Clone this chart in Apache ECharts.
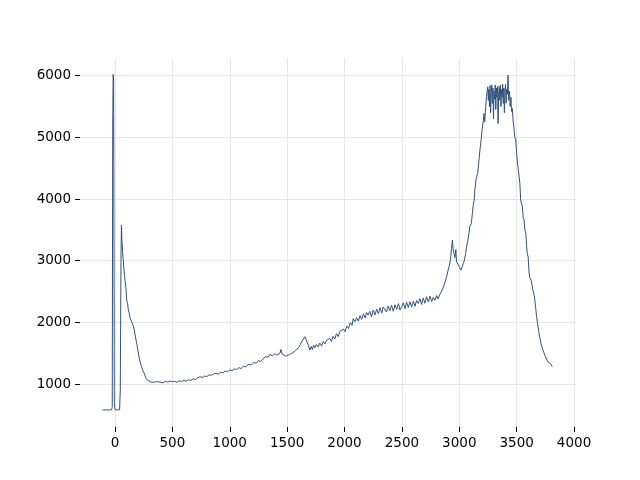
<!DOCTYPE html>
<html><head><meta charset="utf-8">
<script src="https://cdn.jsdelivr.net/npm/echarts@6/dist/echarts.min.js"></script>
<style>html,body{margin:0;padding:0;background:#fff}#c{width:640px;height:480px}</style>
</head><body><div id="c"></div>
<script>
var xTicks = [0, 500, 1000, 1500, 2000, 2500, 3000, 3500, 4000];
var yTicks = [1000, 2000, 3000, 4000, 5000, 6000];
var xs = [-110,-80,-50,-30,-24,-20,-16,-12,-6,0,20,40,46,52,56,60,66,72,80,87,95,102,110,116,124,131,140,151,160,168,178,189,199,209,220,232,244,255,266,276,290,305,320,335,348,362,377,390,
400,420,440,460,480,500,520,540,560,580,600,620,640,660,680,700,720,740,760,780,800,820,840,860,880,900,920,940,960,980,1000,
1020,1040,1060,1080,1100,1120,1140,1160,1176,1190,1210,1230,1250,1270,1290,1310,1321,1335,1350,1370,1390,1410,1425,1437,1446,1455,1470,1485,1495,1510,1530,1550,1570,1582,1600,1615,1630,1645,1655,1665,1675,1685,1699,1710,1720,1730,1742,1755,1770,1785,1800,1815,1830,1844,1858,1872,1886,1900,1915,1930,1945,1960,1975,1990,2005,2020,2035,2050,2065,2076,2090,2105,2120,2135,2150,2165,2180,2192,2205,2220,2235,2250,2265,2280,2295,2310,2325,2337,2350,2365,2380,2395,2410,2425,2440,2455,2470,2483,2498,2512,2527,2541,2556,2570,2585,2600,2614,2628,2643,2657,2672,2686,2700,2715,2730,2745,2760,2773,2788,2802,2815,2831,2845,2860,2875,2890,2903,2915,2925,2933,2940,2947,2955,2962,2970,2976,2985,2995,3005,3015,3025,3034,3045,3055,3063,3075,3085,3092,3105,3115,3121,3130,3136,3145,3150,3160,3170,3179,3190,3200,3208,3215,3222,3230,3237,3243,3248,3253,3258,3263,3268,3273,3278,3283,3288,3293,3298,3303,3308,3313,3318,3323,3328,3333,3338,3343,3348,3353,3358,3363,3368,3373,3378,3383,3388,3393,3398,3403,3408,3413,3420,3425,3430,3437,3444,3450,3455,3462,3470,3477,3484,3492,3500,3506,3513,3520,3528,3535,3543,3550,3557,3565,3571,3580,3586,3592,3600,3608,3615,3625,3635,3644,3655,3665,3673,3682,3692,3702,3712,3720,3731,3740,3750,3760,3770,3778,3786,3795,3804,3810];
var ys = [580,580,580,582,620,5200,6020,5900,700,585,580,582,900,3000,3577,3350,3150,3010,2820,2686,2560,2361,2300,2200,2150,2070,2030,1984,1940,1875,1760,1665,1550,1442,1350,1280,1210,1173,1110,1076,1050,1037,1045,1028,1021,1040,1011,1030,
1035,1020,1045,1030,1050,1038,1045,1030,1052,1040,1060,1045,1070,1058,1085,1070,1100,1118,1105,1130,1120,1150,1140,1165,1173,1160,1190,1180,1210,1200,1227,
1215,1245,1235,1265,1250,1290,1275,1320,1335,1310,1350,1335,1380,1365,1410,1440,1470,1440,1480,1455,1490,1470,1500,1497,1562,1490,1470,1450,1443,1470,1490,1510,1540,1551,1590,1640,1700,1730,1767,1720,1690,1630,1551,1610,1560,1630,1590,1640,1600,1665,1615,1690,1650,1710,1686,1740,1690,1775,1730,1815,1770,1855,1835,1890,1850,1940,1900,1995,1950,2060,2010,2075,2020,2110,2050,2140,2070,2160,2118,2180,2090,2200,2120,2215,2140,2240,2150,2250,2227,2170,2265,2190,2275,2180,2285,2210,2305,2200,2253,2315,2220,2325,2240,2335,2250,2345,2260,2355,2307,2385,2290,2395,2310,2415,2330,2425,2340,2405,2361,2435,2380,2455,2469,2560,2650,2739,2850,2929,3050,3200,3334,3180,3118,3050,3180,2980,3010,2920,2900,2848,2900,2950,3010,3120,3220,3334,3450,3560,3604,3780,3900,3982,4150,4306,4350,4413,4600,4780,4955,5150,5250,5387,5250,5500,5650,5765,5820,5600,5780,5500,5840,5400,5700,5850,5550,5800,5300,5750,5620,5850,5450,5800,5650,5830,5225,5700,5820,5600,5850,5500,5780,5650,5860,5550,5800,5400,5750,5860,5554,5780,5700,6008,5600,5750,5500,5650,5420,5468,5250,5150,5000,4955,4750,4600,4500,4468,4250,3982,3950,3874,3700,3658,3500,3442,3250,3118,3063,2800,2720,2686,2600,2500,2415,2250,2100,1984,1850,1750,1660,1600,1540,1497,1450,1420,1361,1390,1340,1330,1300,1280,1310];

var pts = xs.map(function (x, i) { return [x, ys[i]]; });
var chart = echarts.init(document.getElementById('c'), null, {renderer: 'canvas'});
function lbl(ticks) {
  return {customValues: ticks, margin: 9, color: '#000', fontSize: 13.5, fontFamily: 'DejaVu Sans',
    formatter: function (v) { return String(v); }};
}
chart.setOption({
  animation: false,
  backgroundColor: '#fff',
  grid: {left: 80, right: 64, top: 58, bottom: 53, containLabel: false},
  xAxis: {
    type: 'value', min: -305, max: 4017,
    axisLine: {show: false, onZero: false},
    axisTick: {show: true, customValues: xTicks, length: 5, lineStyle: {color: '#000', width: 1}},
    axisLabel: lbl(xTicks),
    splitLine: {show: true, lineStyle: {color: '#e6e6e6', width: 1}}
  },
  yAxis: {
    type: 'value', min: 303, max: 6287,
    axisLine: {show: false, onZero: false},
    axisTick: {show: true, customValues: yTicks, length: 5, lineStyle: {color: '#000', width: 1}},
    axisLabel: lbl(yTicks),
    splitLine: {show: true, lineStyle: {color: '#e6e6e6', width: 1}}
  },
  series: [{
    type: 'line', data: pts, showSymbol: false, symbol: 'none',
    lineStyle: {color: '#33527c', width: 1}, z: 3
  }]
});
</script></body></html>
